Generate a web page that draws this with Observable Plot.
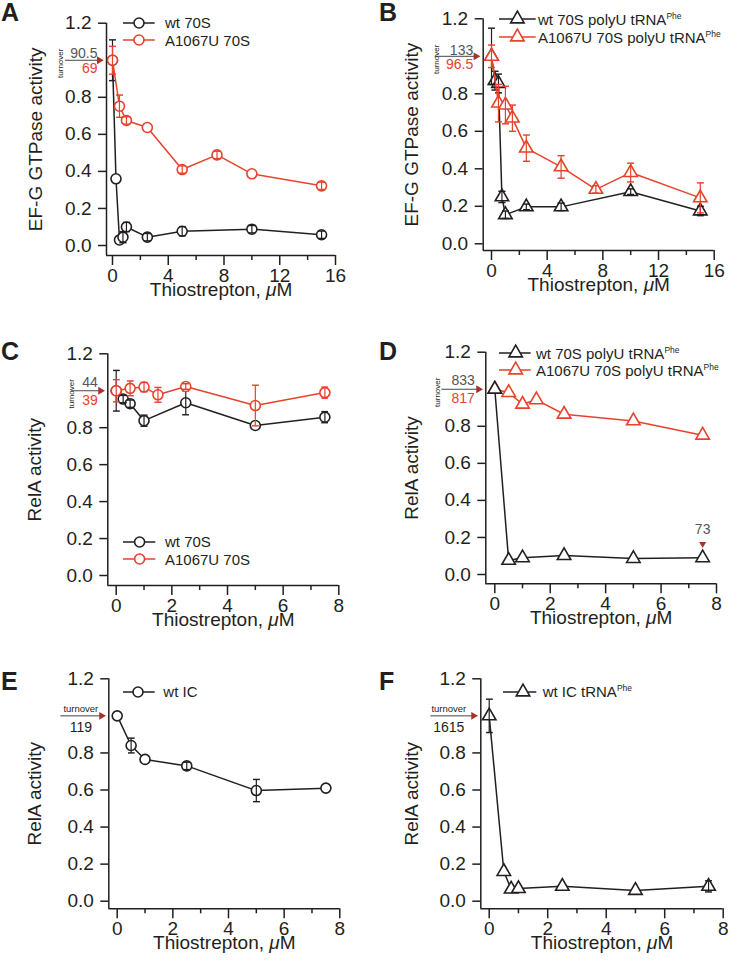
<!DOCTYPE html>
<html><head><meta charset="utf-8">
<script src="https://cdn.jsdelivr.net/npm/d3@7"></script>
<script src="https://cdn.jsdelivr.net/npm/@observablehq/plot@0.6"></script>
<style>
body{margin:0;background:#fff;}
#fig{position:relative;width:733px;height:966px;overflow:hidden;font-family:"Liberation Sans",Arial,Helvetica,sans-serif;color:#231f20;}
.panel{position:absolute;}
.letter{position:absolute;font-weight:bold;font-size:25px;line-height:1;}
.lgtext{position:absolute;font-size:15px;line-height:1;white-space:nowrap;}
.lgtext sup{font-size:8.5px;vertical-align:6px;line-height:0;}
.lgsym{position:absolute;overflow:visible;}
</style></head><body><div id="fig"></div>
<script>
// ---------- data ----------
const yTicks = [0, 0.2, 0.4, 0.6, 0.8, 1.2];
const xTicks16 = [0, 4, 8, 12, 16];
const xMinor16 = [2, 6, 10, 14];
const xTicks8 = [0, 2, 4, 6, 8];
const xMinor8 = [1, 3, 5, 7];

// Panel A: EF-G GTPase, 70S
const concA_wt = [0, 0.25, 0.5, 0.75, 1, 2.5, 5, 10, 15];
const actA_wt  = [1.0, 0.36, 0.03, 0.045, 0.10, 0.045, 0.077, 0.088, 0.058];
const errA_wt  = [0.11, 0, 0.01, 0.03, 0.025, 0.02, 0.025, 0.02, 0.02];
const concA_mut = [0, 0.5, 1, 2.5, 5, 7.5, 10, 15];
const actA_mut  = [1.0, 0.752, 0.675, 0.637, 0.41, 0.489, 0.387, 0.322];
const errA_mut  = [0.075, 0.06, 0.02, 0.01, 0.02, 0.02, 0.01, 0.02];

// Panel B: EF-G GTPase, 70S polyU tRNAPhe
const concB_wt = [0, 0.25, 0.5, 0.75, 1, 2.5, 5, 10, 15];
const actB_wt  = [1.0, 0.87, 0.855, 0.25, 0.155, 0.197, 0.197, 0.278, 0.175];
const errB_wt  = [0.15, 0.05, 0.05, 0.03, 0.02, 0.015, 0.02, 0.015, 0.025];
const concB_mut = [0, 0.5, 1, 1.5, 2.5, 5, 7.5, 10, 15];
const actB_mut  = [1.0, 0.75, 0.74, 0.67, 0.51, 0.41, 0.29, 0.38, 0.245];
const errB_mut  = [0.06, 0.1, 0.1, 0.07, 0.07, 0.06, 0.02, 0.05, 0.08];

// Panel C: RelA, 70S
const concC_wt = [0, 0.25, 0.5, 1, 2.5, 5, 7.5];
const actC_wt  = [1.0, 0.955, 0.93, 0.838, 0.935, 0.812, 0.857];
const errC_wt  = [0.11, 0.02, 0.02, 0.03, 0.065, 0.01, 0.03];
const concC_mut = [0, 0.5, 1, 1.5, 2.5, 5, 7.5];
const actC_mut  = [1.0, 1.013, 1.02, 0.978, 1.023, 0.92, 0.99];
const errC_mut  = [0.06, 0.04, 0.025, 0.04, 0.015, 0.11, 0.03];

// Panel D: RelA, 70S polyU tRNAPhe
const concD_wt = [0, 0.5, 1, 2.5, 5, 7.5];
const actD_wt  = [1.0, 0.076, 0.09, 0.102, 0.086, 0.09];
const concD_mut = [0, 0.5, 1, 1.5, 2.5, 5, 7.5];
const actD_mut  = [1.0, 0.982, 0.919, 0.943, 0.865, 0.829, 0.752];

// Panel E: RelA, wt IC
const concE = [0, 0.5, 1, 2.5, 5, 7.5];
const actE  = [1.0, 0.84, 0.765, 0.73, 0.597, 0.61];
const errE  = [0.01, 0.04, 0.01, 0.02, 0.06, 0.01];

// Panel F: RelA, wt IC tRNAPhe
const concF = [0, 0.5, 0.75, 1, 2.5, 5, 7.5];
const actF  = [1.0, 0.16, 0.065, 0.068, 0.08, 0.058, 0.08];
const errF  = [0.09, 0.01, 0.01, 0.01, 0.01, 0.01, 0.03];

// turnover labels
const turnoverA = ["90.5", "69"];
const turnoverB = ["133", "96.5"];
const turnoverC = ["44", "39"];
const turnoverD = ["833", "817"];
const turnoverE = ["119"];
const turnoverF = ["1615"];
const noteD = {x: 7.5, y: 0.165, label: "73"};

const xTitle = "Thiostrepton, μM";
const yTitleGTP = "EF-G GTPase activity";
const yTitleRelA = "RelA activity";

// ---------- style ----------
const ink = "#231f20";
const red = "#e8412c";
const headRed = "#a8322a";
const numGray = "#555555";
const font = '"Liberation Sans", Arial, Helvetica, sans-serif';
const numSize = 14;

const ser = (x, y, e, color, symbol) => ({x, y, e, color, symbol});

const panels = [
  {letter: "A", left: 0, top: 0, w: 366, h: 320, fr: {l: 106, r: 335, t: 22.7, b: 255, x0: 112, y0: 245},
   xmax: 16, major: xTicks16, minor: xMinor16, ylabel: yTitleGTP, ylabDx: -71,
   series: [ser(concA_wt, actA_wt, errA_wt, ink, "circle"), ser(concA_mut, actA_mut, errA_mut, red, "circle")],
   turn: {nums: turnoverA, vertical: true, lineFrom: 41, textDx: -9, turnDx: -46, dyTop: -2, dyBot: 2.5},
   legend: {rows: [{y: 22.7, color: ink, html: "wt 70S"}, {y: 40, color: red, html: "A1067U 70S"}], x0: 123.3, x1: 155, cx: 139.3, tx: 165, symbol: "circle"},
   letterPos: [1, 0]},
  {letter: "B", left: 366, top: 0, w: 367, h: 320, fr: {l: 116.7, r: 347.7, t: 18.3, b: 250, x0: 125, y0: 243.3},
   xmax: 16, major: xTicks16, minor: xMinor16, ylabel: yTitleGTP, ylabDx: -71,
   series: [ser(concB_wt, actB_wt, errB_wt, ink, "triangle"), ser(concB_mut, actB_mut, errB_mut, red, "triangle")],
   turn: {nums: turnoverB, vertical: true, lineFrom: 48, textDx: -10, turnDx: -47, dyTop: -1.5, dyBot: 3},
   legend: {rows: [{y: 19.3, color: ink, html: "wt 70S polyU tRNA<sup>Phe</sup>"}, {y: 37.3, color: red, html: "A1067U 70S polyU tRNA<sup>Phe</sup>"}], x0: 499.3, x1: 536, cx: 517.7, tx: 538, symbol: "triangle"},
   letterPos: [379, 0]},
  {letter: "C", left: 0, top: 320, w: 366, h: 330, fr: {l: 107.3, r: 338.3, t: 33.3, b: 265, x0: 115.7, y0: 255},
   xmax: 8, major: xTicks8, minor: xMinor8, ylabel: yTitleRelA, ylabDx: -73,
   series: [ser(concC_wt, actC_wt, errC_wt, ink, "circle"), ser(concC_mut, actC_mut, errC_mut, red, "circle")],
   turn: {nums: turnoverC, vertical: true, lineFrom: 36, textDx: -10, turnDx: -36, dyTop: -4, dyBot: 4},
   legend: {rows: [{y: 541.7, color: ink, html: "wt 70S"}, {y: 559.3, color: red, html: "A1067U 70S"}], x0: 122.7, x1: 155, cx: 139.3, tx: 165, symbol: "circle"},
   letterPos: [1, 339]},
  {letter: "D", left: 366, top: 320, w: 367, h: 330, fr: {l: 119.3, r: 350, t: 31.7, b: 263.3, x0: 128.3, y0: 254},
   xmax: 8, major: xTicks8, minor: xMinor8, ylabel: yTitleRelA, ylabDx: -73.5,
   // black drawn last so its marker sits on top at 0
   series: [ser(concD_mut, actD_mut, null, red, "triangle"), ser(concD_wt, actD_wt, null, ink, "triangle")],
   turn: {nums: turnoverD, vertical: true, lineFrom: 44, textDx: -11, turnDx: -48, dyTop: -4, dyBot: 4},
   legend: {rows: [{y: 353.3, color: ink, html: "wt 70S polyU tRNA<sup>Phe</sup>"}, {y: 370, color: red, html: "A1067U 70S polyU tRNA<sup>Phe</sup>"}], x0: 499.3, x1: 531, cx: 516, tx: 536, symbol: "triangle"},
   note: noteD, letterPos: [379, 339]},
  {letter: "E", left: 0, top: 650, w: 366, h: 316, fr: {l: 108.3, r: 339.3, t: 28.3, b: 258.3, x0: 116.7, y0: 250.7},
   xmax: 8, major: xTicks8, minor: xMinor8, ylabel: yTitleRelA, ylabDx: -74,
   series: [ser(concE, actE, errE, ink, "circle")],
   turn: {nums: turnoverE, vertical: false, lineFrom: 48, textDx: -28, dyTop: -4, dyBot: 6},
   legend: {rows: [{y: 691.7, color: ink, html: "wt IC"}], x0: 123.3, x1: 155, cx: 138.3, tx: 163.3, symbol: "circle"},
   letterPos: [1, 669]},
  {letter: "F", left: 366, top: 650, w: 367, h: 316, fr: {l: 114.3, r: 356.7, t: 28.3, b: 258.3, x0: 122.7, y0: 250.7},
   xmax: 8, major: xTicks8, minor: xMinor8, ylabel: yTitleRelA, ylabDx: -68.5,
   series: [ser(concF, actF, errF, ink, "triangle")],
   turn: {nums: turnoverF, vertical: false, lineFrom: 50, textDx: -32, dyTop: -4, dyBot: 6},
   legend: {rows: [{y: 691.7, color: ink, html: "wt IC tRNA<sup>Phe</sup>"}], x0: 502.7, x1: 536, cx: 522.7, tx: 542.7, symbol: "triangle"},
   letterPos: [379, 669]}
];

const fig = document.getElementById("fig");
const svgNS = "http://www.w3.org/2000/svg";

function drawPanel(p) {
  const fr = p.fr;
  const kx = (fr.r - fr.x0) / p.xmax;
  const ky = (fr.y0 - fr.t) / 1.2;
  const xmin = -(fr.x0 - fr.l) / kx;
  const ymin = -(fr.b - fr.y0) / ky;
  const xAtPx = px => (px - fr.x0) / kx; // local pixel -> data x (for annotation arrow)
  const marks = [];

  // axes
  marks.push(Plot.ruleX([xmin], {stroke: ink, strokeWidth: 1.5}));
  marks.push(Plot.ruleY([ymin], {stroke: ink, strokeWidth: 1.5}));
  marks.push(Plot.axisY({ticks: yTicks, tickSize: 8, tickPadding: 7, tickFormat: d3.format(".1f"), label: null, color: ink, strokeWidth: 1.5, fontSize: 19}));
  marks.push(Plot.axisX({ticks: p.major, tickSize: 10, tickPadding: 3, tickFormat: d3.format("d"), label: null, color: ink, strokeWidth: 1.5, fontSize: 19}));
  marks.push(Plot.axisX({ticks: p.minor, tickSize: 5, tickFormat: () => "", label: null, color: ink, strokeWidth: 1.5}));

  // axis titles
  marks.push(Plot.text([0], {text: () => xTitle, frameAnchor: "bottom", textAnchor: "middle", lineAnchor: "middle", dy: 34, fontSize: 19, fill: ink}));
  marks.push(Plot.text([0], {text: () => p.ylabel, frameAnchor: "left", textAnchor: "middle", lineAnchor: "middle", rotate: -90, dx: p.ylabDx, fontSize: 19, fill: ink}));

  // turnover annotation
  const t = p.turn;
  marks.push(Plot.ruleY([1], {y: d => d, x1: xAtPx(fr.l - t.lineFrom), x2: xAtPx(fr.l - 8), stroke: "#444", strokeWidth: 1}));
  marks.push(Plot.dot([1], {x: () => xmin, y: d => d, dx: -7.3, symbol: "triangle", rotate: 90, r: 2.9, fill: headRed, stroke: "none"}));
  if (t.vertical) {
    marks.push(Plot.text([1], {x: () => xmin, y: d => d, text: () => "turnover", rotate: -90, textAnchor: "middle", lineAnchor: "middle", dx: t.turnDx, dy: 3, fontSize: 8, fill: ink}));
    marks.push(Plot.text([1], {x: () => xmin, y: d => d, text: () => t.nums[0], textAnchor: "end", lineAnchor: "bottom", dx: t.textDx, dy: t.dyTop, fontSize: numSize, fill: numGray}));
    marks.push(Plot.text([1], {x: () => xmin, y: d => d, text: () => t.nums[1], textAnchor: "end", lineAnchor: "top", dx: t.textDx, dy: t.dyBot, fontSize: numSize, fill: red}));
  } else {
    marks.push(Plot.text([1], {x: () => xmin, y: d => d, text: () => "turnover", textAnchor: "middle", lineAnchor: "bottom", dx: t.textDx, dy: t.dyTop, fontSize: 9.5, fill: ink}));
    marks.push(Plot.text([1], {x: () => xmin, y: d => d, text: () => t.nums[0], textAnchor: "middle", lineAnchor: "top", dx: t.textDx, dy: t.dyBot, fontSize: numSize, fill: ink}));
  }

  // series
  for (const s of p.series) {
    const data = s.x.map((x, i) => ({x, y: s.y[i], e: s.e ? s.e[i] : 0}));
    marks.push(Plot.line(data, {x: "x", y: "y", stroke: s.color, strokeWidth: 1.5}));
    marks.push(Plot.dot(data, {x: "x", y: "y", r: 5, symbol: s.symbol, fill: "white", stroke: s.color, strokeWidth: 1.6}));
    const eb = data.filter(d => d.e > 0.012);
    if (eb.length) marks.push(Plot.link(eb, {x1: "x", x2: "x", y1: d => d.y - d.e, y2: d => d.y + d.e, stroke: s.color, strokeWidth: 1.2, markerStart: "tick", markerEnd: "tick"}));
  }

  // note (panel D)
  if (p.note) {
    const n = p.note;
    marks.push(Plot.dot([n], {x: "x", y: "y", symbol: "triangle", rotate: 180, r: 2.6, fill: headRed, stroke: "none"}));
    marks.push(Plot.text([n], {x: "x", y: "y", text: "label", dy: -14, fontSize: numSize, fill: numGray}));
  }

  const svg = Plot.plot({
    width: p.w, height: p.h,
    marginLeft: fr.l, marginRight: p.w - fr.r, marginTop: fr.t, marginBottom: p.h - fr.b,
    x: {domain: [xmin, p.xmax]},
    y: {domain: [ymin, 1.2]},
    style: {fontFamily: font, fontSize: "19px", color: ink, background: "transparent", maxWidth: "none", overflow: "visible"},
    marks
  });

  // italic mu in the x title
  svg.querySelectorAll("text").forEach(el => {
    if (el.textContent === xTitle) {
      el.textContent = "";
      [["Thiostrepton, ", null], ["μ", "italic"], ["M", null]].forEach(([s, st]) => {
        const ts = document.createElementNS(svgNS, "tspan");
        ts.textContent = s;
        if (st) ts.setAttribute("font-style", st);
        el.appendChild(ts);
      });
    }
  });

  const div = document.createElement("div");
  div.className = "panel";
  div.style.left = p.left + "px";
  div.style.top = p.top + "px";
  div.style.width = p.w + "px";
  div.style.height = p.h + "px";
  div.appendChild(svg);
  fig.appendChild(div);

  // panel letter
  const L = document.createElement("div");
  L.className = "letter";
  L.textContent = p.letter;
  L.style.left = p.letterPos[0] + "px";
  L.style.top = p.letterPos[1] + "px";
  fig.appendChild(L);

  // legend
  const lg = p.legend;
  for (const row of lg.rows) {
    const sv = document.createElementNS(svgNS, "svg");
    sv.setAttribute("class", "lgsym");
    sv.setAttribute("width", lg.x1 - lg.x0);
    sv.setAttribute("height", 16);
    sv.style.left = lg.x0 + "px";
    sv.style.top = (row.y - 8) + "px";
    const ln = document.createElementNS(svgNS, "line");
    ln.setAttribute("x1", 0); ln.setAttribute("x2", lg.x1 - lg.x0);
    ln.setAttribute("y1", 8); ln.setAttribute("y2", 8);
    ln.setAttribute("stroke", row.color); ln.setAttribute("stroke-width", 1.5);
    sv.appendChild(ln);
    const sym = document.createElementNS(svgNS, "path");
    const symType = lg.symbol === "triangle" ? d3.symbolTriangle : d3.symbolCircle;
    sym.setAttribute("d", d3.symbol(symType, Math.PI * 25)());
    sym.setAttribute("transform", `translate(${lg.cx - lg.x0},8)`);
    sym.setAttribute("fill", "white");
    sym.setAttribute("stroke", row.color);
    sym.setAttribute("stroke-width", 1.6);
    sv.appendChild(sym);
    fig.appendChild(sv);
    const tx = document.createElement("div");
    tx.className = "lgtext";
    tx.innerHTML = row.html;
    tx.style.left = lg.tx + "px";
    tx.style.top = (row.y - 0.49 * 15) + "px";
    fig.appendChild(tx);
  }
}

panels.forEach(drawPanel);
</script>
</body></html>
